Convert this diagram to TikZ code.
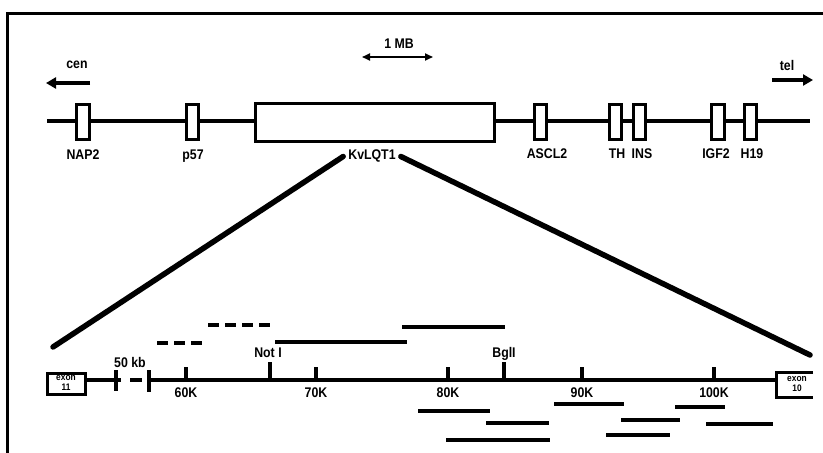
\documentclass[tikz,border=0pt]{standalone}
\usepackage{fontspec}
\setmainfont{Liberation Sans}[FakeStretch=0.88]
\usetikzlibrary{arrows.meta}
\begin{document}
\begin{tikzpicture}[x=1pt,y=-1pt,
  lbl/.style={font=\bfseries\fontsize{14}{15}\selectfont, inner sep=0pt, anchor=base},
  gene/.style={draw, fill=white, line width=3pt, minimum width=12.5pt, minimum height=35pt, inner sep=0pt},
  chrom/.style={line width=3.5pt},
  clone/.style={line width=3.2pt},
  dclone/.style={line width=3.2pt, dash pattern=on 11pt off 6pt},
  zoomline/.style={line width=5.5pt, line cap=round},
  tick/.style={line width=3.2pt},
  exonbox/.style={draw, line width=3pt, minimum width=38pt, minimum height=21pt, inner sep=0pt},
  exontext/.style={align=center, inner sep=0pt, font=\bfseries\fontsize{9.5}{9.5}\selectfont},
  bigarrow/.style={line width=4pt, -{Triangle[length=10pt,width=11pt]}},
]
\useasboundingbox (0,0) rectangle (823,453);
% frame
\draw[line width=3pt] (7,453) -- (7,13) -- (823,13);

% top chromosome
\coordinate (cl) at (47,121);
\coordinate (cr) at (810,121);
\draw[chrom] (cl) -- (cr);
\node[gene] (nap2) at (83,122) {};
\node[gene] (p57) at (192.5,122) {};
\node[gene, minimum width=239pt, minimum height=38pt] (kv) at (375,122.5) {};
\node[gene] (ascl2) at (540.5,122) {};
\node[gene] (th) at (615.5,122) {};
\node[gene] (ins) at (639.5,122) {};
\node[gene] (igf2) at (718,122) {};
\node[gene] (h19) at (750.5,122) {};

\node[lbl] (lnap2) at (83,159) {NAP2};
\node[lbl] (lp57) at (193,159) {p57};
\node[lbl] (lkv) at (372,159) {KvLQT1};
\node[lbl] (lascl2) at (547,158) {ASCL2};
\node[lbl] (lth) at (617,158) {TH};
\node[lbl] (lins) at (642,158) {INS};
\node[lbl] (ligf2) at (716,158) {IGF2};
\node[lbl] (lh19) at (752,158) {H19};

% cen / tel
\node[lbl] (cen) at (77,68) {cen};
\node[lbl] (tel) at (787,70) {tel};
\coordinate (cena) at (90,83);
\coordinate (cenb) at (46,83);
\draw[bigarrow] (cena) -- (cenb);
\coordinate (tela) at (772,80);
\coordinate (telb) at (813,80);
\draw[bigarrow] (tela) -- (telb);

% 1 MB
\node[lbl] (mb) at (399,48) {1 MB};
\coordinate (mba) at (362,57);
\coordinate (mbb) at (433,57);
\draw[line width=1.8pt, {Triangle[length=8pt,width=7pt]}-{Triangle[length=8pt,width=7pt]}] (mba) -- (mbb);

% bottom map
\node[exonbox] (ex11) at (66.5,383.5) {};
\node[exontext] (ex11t) at (66,383) {exon\\11};
\node[minimum width=44pt, minimum height=26pt, inner sep=0pt] (ex10) at (797,385) {};
\node[exontext] (ex10t) at (797,384) {exon\\10};
\draw[line width=3pt] (813,372.5) -- (776.5,372.5) -- (776.5,397.5) -- (813,397.5);

\coordinate (brk1) at (121,380);
\coordinate (d1) at (130,380);
\coordinate (d2) at (142,380);
\coordinate (brk2) at (149,380);
\draw[chrom] (ex11.east |- brk1) -- (brk1);
\draw[chrom] (d1) -- (d2);
\draw[chrom] (brk2) -- (776.5,380);
\draw[tick] (116,370) -- (116,391);
\draw[tick] (149,370) -- (149,392);
\node[lbl] (kb) at (130,367) {50 kb};

% ticks
\foreach \x/\t in {186/60K,316/70K,448/80K,582/90K,714/100K}{
  \draw[tick] (\x,380) -- (\x,367);
  \node[lbl] at (\x,397) {\t};
}
\draw[tick] (270,380) -- (270,362);
\node[lbl] (noti) at (268,357) {Not I};
\draw[tick] (504,380) -- (504,362);
\node[lbl] (bgli) at (504,357) {BglI};

% zoom lines
\coordinate (zl) at (53,347);
\coordinate (zr) at (810,355);
\draw[zoomline] ([xshift=-5pt,yshift=-1pt]lkv.west) -- (zl);
\draw[zoomline] ([xshift=5pt,yshift=-1pt]lkv.east) -- (zr);

% clones above
\draw[dclone] (157,343) -- (203,343);
\draw[dclone] (208,325) -- (270,325);
\draw[clone] (275,342) -- (407,342);
\draw[clone] (402,327) -- (505,327);

% clones below
\draw[clone] (418,411) -- (490,411);
\draw[clone] (486,423) -- (549,423);
\draw[clone] (446,440) -- (550,440);
\draw[clone] (554,404) -- (624,404);
\draw[clone] (621,420) -- (680,420);
\draw[clone] (606,435) -- (670,435);
\draw[clone] (675,407) -- (725,407);
\draw[clone] (706,424) -- (773,424);
\end{tikzpicture}
\end{document}
